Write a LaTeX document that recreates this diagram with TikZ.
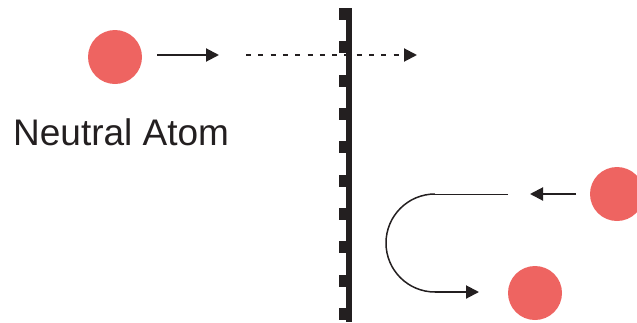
\documentclass[tikz,border=0pt]{standalone}
\usepackage{fontspec}
\setmainfont{Liberation Sans}
\usetikzlibrary{arrows.meta}
\definecolor{atomred}{HTML}{EE6461}
\definecolor{ink}{HTML}{231F20}
\begin{document}
\begin{tikzpicture}[x=1pt,y=-1pt,
  atom/.style={circle,fill=atomred,inner sep=0pt,minimum size=54pt},
  thick arrow/.style={draw=ink,line width=2pt,-{Triangle[length=13pt,width=13pt]}},
  tooth/.style={fill=ink}]
\useasboundingbox (0,0) rectangle (637,322);
\begin{scope}
\clip (0,0) rectangle (637,322);
% atoms
\node[atom] (a1) at (115,57) {};
\node[atom] (a2) at (617,194) {};
\node[atom] (a3) at (535,293) {};
% label
\node[anchor=base west,inner sep=0pt,text=ink,font=\fontsize{37}{40}\selectfont] (lbl) at (13,145) {Neutral Atom};
% wall
\fill[ink] (345.7,8) rectangle (351.7,322);
\foreach \i in {0,...,9}{
  \fill[ink] (339,{8+33.35*\i}) rectangle (346,{20+33.35*\i});
}
% coordinates
\coordinate (p1s) at (157,55);
\coordinate (p1e) at (219,55);
\coordinate (p2s) at (246,55);
\coordinate (p2e) at (417,55);
\coordinate (r1s) at (576,194);
\coordinate (r1e) at (530,194);
\coordinate (ls) at (508,194);
\coordinate (lt) at (435,194);
\coordinate (lb) at (435,292);
\coordinate (r2e) at (479,292);
% arrows
\draw[thick arrow] (p1s) -- (p1e);
\draw[draw=ink,line width=2pt,dash pattern=on 5pt off 7.3pt,-{Triangle[length=13pt,width=13pt]}] (p2s) -- (p2e);
\draw[thick arrow] (r1s) -- (r1e);
\draw[draw=ink,line width=1pt] (ls) -- (lt);
\draw[draw=ink,line width=1.5pt] (lt) arc[start angle=90,end angle=270,radius=49pt];
\draw[thick arrow] (lb) -- (r2e);
\end{scope}
\end{tikzpicture}
\end{document}
